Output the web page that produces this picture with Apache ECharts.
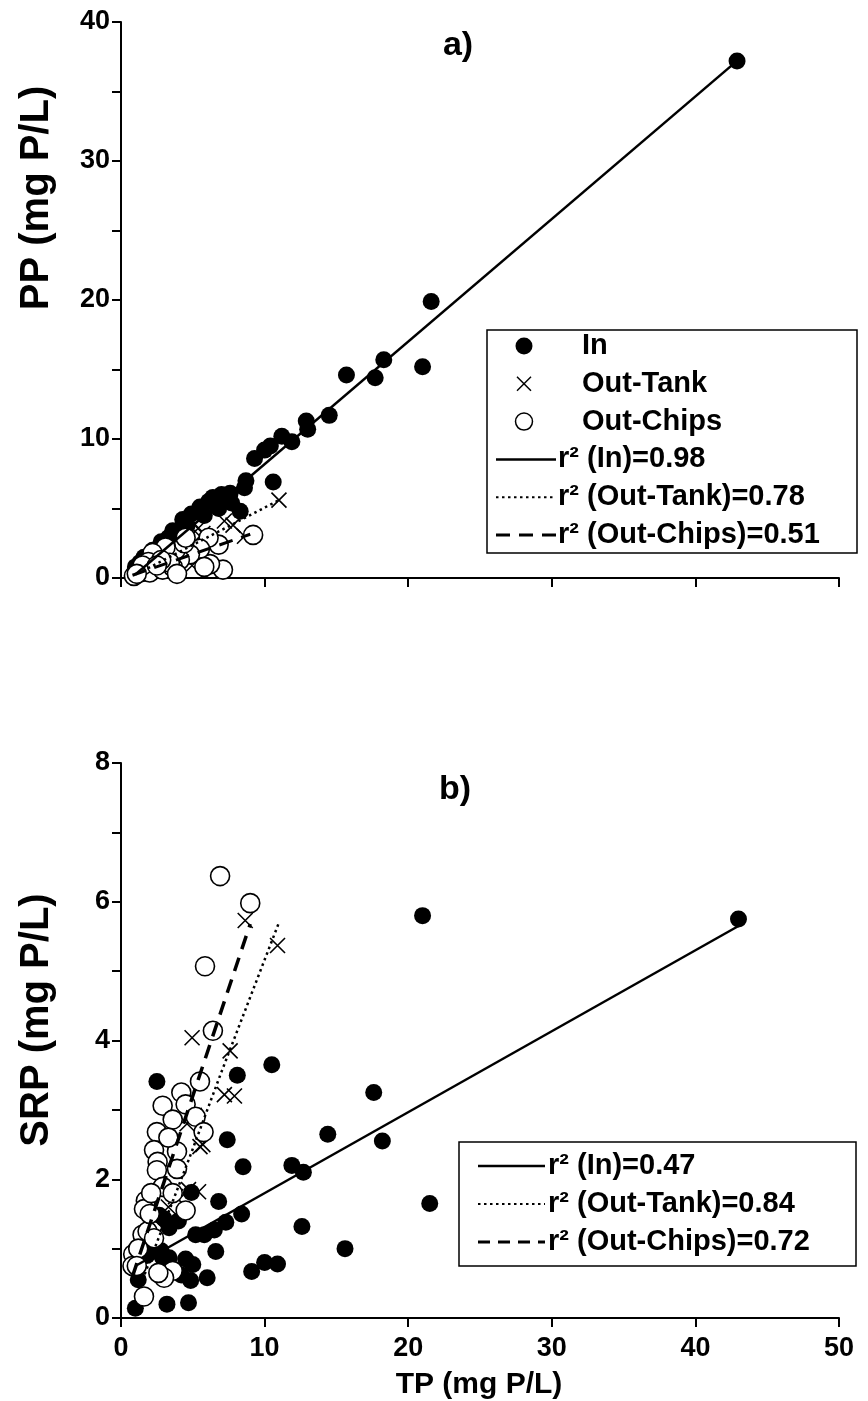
<!DOCTYPE html>
<html>
<head>
<meta charset="utf-8">
<script src="https://cdn.jsdelivr.net/npm/echarts@6/dist/echarts.min.js"></script>
<style>
  html, body { margin: 0; padding: 0; background: #fff; }
  #chart { width: 868px; height: 1401px; }
</style>
</head>
<body>
<div id="chart"></div>
<script>
// ---- Panel a: particulate P (PP) against total P (TP), mg P/L ----
const inPP = [
  [42.9,37.2],[21.6,19.9],[21.0,15.2],[18.3,15.7],[17.7,14.4],[15.7,14.6],[14.5,11.7],
  [12.9,11.3],[13.0,10.7],[11.9,9.8],[11.2,10.2],[10.4,9.5],[10.0,9.2],[9.3,8.6],
  [10.6,6.9],[8.7,7.0],[8.6,6.5],[8.3,4.8],[7.6,6.1],[7.0,6.0],[6.4,5.8],[6.1,5.5],
  [5.5,5.1],[4.9,4.6],[4.3,4.2],[3.6,3.4],[3.3,2.9],[2.8,2.6],[2.2,2.0],[1.6,1.5],
  [1.3,1.1],[1.0,0.8],[7.7,5.4],[6.8,5.0],[5.8,4.5],[2.5,1.0],[3.0,2.1],[4.6,3.8],[1.5,0.3]
];
const tankPP = [
  [11.0,5.6],[7.2,4.1],[7.8,3.8],[8.6,3.0],[5.1,2.2],[4.6,1.8],[5.5,3.0],[5.7,3.2],
  [5.4,3.6],[4.7,2.9],[3.8,2.0],[2.9,1.6],[2.4,1.35],[1.9,0.95],[3.3,1.7],[4.95,0.9],[1.2,0.5]
];
const chipsPP = [
  [9.2,3.1],[7.1,0.6],[6.2,1.0],[6.8,2.4],[6.1,2.9],[5.5,2.1],[4.8,1.7],[4.1,1.3],
  [3.8,2.0],[4.4,2.5],[3.1,2.2],[2.2,1.8],[1.9,1.15],[1.3,0.4],[2.0,0.4],[2.9,0.6],
  [3.6,0.8],[1.5,0.9],[3.4,1.1],[2.8,1.3],[0.9,0.15],[1.1,0.3],[5.8,0.8],[4.5,2.9],
  [2.5,0.9],[3.9,0.3]
];
// fitted trend lines, panel a
const fitInPP = [[1.0,0.25],[42.9,37.2]];
const fitTankPP = [[1.5,0.5],[11.0,5.6]];
const fitChipsPP = [[0.8,0.2],[9.0,3.15]];

// ---- Panel b: soluble reactive P (SRP) against total P (TP), mg P/L ----
const inSRP = [
  [43.0,5.75],[21.0,5.8],[21.5,1.65],[18.2,2.55],[17.6,3.25],[15.6,1.0],[14.4,2.65],
  [12.7,2.1],[11.9,2.2],[12.6,1.32],[10.5,3.65],[10.9,0.78],[10.0,0.8],[9.1,0.67],
  [8.5,2.18],[8.1,3.5],[8.4,1.5],[7.4,2.57],[7.3,1.38],[6.8,1.68],[6.6,0.96],[6.5,1.27],
  [6.0,0.58],[5.8,1.2],[5.2,1.2],[4.9,1.81],[5.0,0.77],[4.85,0.54],[4.5,0.85],[4.2,0.62],
  [4.7,0.22],[3.2,0.2],[3.35,0.87],[3.0,1.43],[3.35,1.3],[2.66,1.48],[2.8,0.97],[2.9,0.87],
  [2.5,3.41],[1.0,0.14],[1.2,0.55],[1.8,0.9],[2.2,1.1],[4.0,1.4]
];
const tankSRP = [
  [8.65,5.73],[10.9,5.37],[4.95,4.04],[7.6,3.85],[7.2,3.22],[7.9,3.2],[5.1,2.92],[4.6,2.8],
  [5.5,2.47],[5.7,2.5],[5.4,1.82],[4.7,1.85],[3.8,1.75],[2.9,1.3],[2.4,1.05],[1.9,0.95],[3.3,1.6]
];
const chipsSRP = [
  [6.9,6.37],[9.0,5.98],[5.85,5.07],[6.4,4.14],[5.5,3.41],[4.2,3.25],[2.9,3.06],[4.5,3.08],
  [5.2,2.9],[3.6,2.86],[2.5,2.68],[5.75,2.68],[2.3,2.42],[3.9,2.4],[2.55,2.25],[2.5,2.13],
  [3.9,2.15],[2.9,1.89],[3.6,1.8],[1.73,1.69],[1.6,1.57],[4.5,1.55],[1.5,1.2],[1.85,1.25],
  [2.3,1.15],[0.85,0.92],[0.8,0.75],[3.6,0.68],[3.0,0.58],[1.6,0.31],[2.6,0.65],[1.2,1.0],
  [1.1,0.75],[2.0,1.5],[3.3,2.6],[2.1,1.8]
];
// fitted trend lines, panel b
const fitInSRP = [[1.0,0.75],[43.0,5.65]];
const fitTankSRP = [[1.5,0.55],[4.75,2.3],[7.0,3.55],[11.0,5.7]];
const fitChipsSRP = [[0.8,0.6],[9.0,5.68]];

// axis ranges and text
const xTicks = { min: 0, max: 50, step: 10 };
const ppTicks = { min: 0, max: 40, step: 5, labelStep: 10 };
const srpTicks = { min: 0, max: 8, step: 1, labelStep: 2 };
const legendA = ['In', 'Out-Tank', 'Out-Chips', 'r\u00b2 (In)=0.98', 'r\u00b2 (Out-Tank)=0.78', 'r\u00b2 (Out-Chips)=0.51'];
const legendB = ['r\u00b2 (In)=0.47', 'r\u00b2 (Out-Tank)=0.84', 'r\u00b2 (Out-Chips)=0.72'];

const FONT = '"Liberation Sans", Arial, sans-serif';
const BLACK = '#000';
const DOT = [2.5, 3.5];
const DASH = [14, 9];

const chart = echarts.init(document.getElementById('chart'), null, { renderer: 'canvas' });

function xAxis(gridIndex, showLabels) {
  return {
    type: 'value', gridIndex, min: xTicks.min, max: xTicks.max, interval: xTicks.step,
    axisLine: { show: true, onZero: false, lineStyle: { color: BLACK, width: 2 } },
    axisTick: { show: true, length: 9, lineStyle: { color: BLACK, width: 2 } },
    axisLabel: { show: showLabels, color: BLACK, fontFamily: FONT, fontWeight: 'bold', fontSize: 27, margin: 17 },
    splitLine: { show: false }
  };
}
function yAxis(gridIndex, t) {
  return {
    type: 'value', gridIndex, min: t.min, max: t.max, interval: t.step,
    axisLine: { show: true, onZero: false, lineStyle: { color: BLACK, width: 2 } },
    axisTick: { show: true, length: 9, lineStyle: { color: BLACK, width: 2 } },
    axisLabel: {
      color: BLACK, fontFamily: FONT, fontWeight: 'bold', fontSize: 27, margin: 11,
      formatter: v => (Math.round(v) % t.labelStep === 0 ? String(v) : '')
    },
    splitLine: { show: false }
  };
}
function dots(name, data, axis, kind) {
  const base = { name, type: 'scatter', data, xAxisIndex: axis, yAxisIndex: axis, silent: true };
  if (kind === 'in') return Object.assign(base, { symbol: 'circle', symbolSize: 17, itemStyle: { color: BLACK, opacity: 1 }, z: 2 });
  if (kind === 'tank') return Object.assign(base, {
    symbol: 'path://M0,0L10,10M10,0L0,10', symbolSize: 15,
    itemStyle: { color: 'rgba(0,0,0,0)', borderColor: BLACK, borderWidth: 1.6, opacity: 1 }, z: 3
  });
  return Object.assign(base, { symbol: 'circle', symbolSize: 19, itemStyle: { color: '#fff', borderColor: BLACK, borderWidth: 1.6, opacity: 1 }, z: 4 });
}
function fit(name, data, axis, type, width) {
  return {
    name, type: 'line', data, xAxisIndex: axis, yAxisIndex: axis, symbol: 'none', silent: true,
    lineStyle: { color: BLACK, width, type }, z: 6
  };
}

// legend drawn as a boxed key: marker rows and line rows
function legendBox(x, y, w, h, rows, keyX0, keyX1, markerX, textMarkerX, textLineX, rowGap, firstRow) {
  const els = [{ type: 'rect', shape: { x, y, width: w, height: h }, style: { fill: '#fff', stroke: BLACK, lineWidth: 1.5 }, z: 20 }];
  const cx = markerX;
  rows.forEach((r, i) => {
    const cy = firstRow + i * rowGap;
    if (r.kind === 'in') els.push({ type: 'circle', shape: { cx, cy, r: 8.5 }, style: { fill: BLACK }, z: 21 });
    if (r.kind === 'tank') els.push({ type: 'polyline', shape: { points: [[cx - 7, cy - 7], [cx + 7, cy + 7]] }, style: { stroke: BLACK, lineWidth: 1.5 }, z: 21 },
                                    { type: 'polyline', shape: { points: [[cx + 7, cy - 7], [cx - 7, cy + 7]] }, style: { stroke: BLACK, lineWidth: 1.5 }, z: 21 });
    if (r.kind === 'chips') els.push({ type: 'circle', shape: { cx, cy, r: 8.5 }, style: { fill: '#fff', stroke: BLACK, lineWidth: 1.5 }, z: 21 });
    if (r.line) els.push({ type: 'polyline', shape: { points: [[keyX0, cy], [keyX1, cy]] },
                           style: { stroke: BLACK, lineWidth: r.width, lineDash: r.line === 'solid' ? null : r.line }, z: 21 });
    els.push({ type: 'text', x: r.line ? textLineX : textMarkerX, y: cy,
               style: { text: r.text, fill: BLACK, font: 'bold 29px ' + FONT, textVerticalAlign: 'middle', textAlign: 'left' }, z: 21 });
  });
  return els;
}

const graphics = [
  { type: 'text', x: 458, y: 46, style: { text: 'a)', fill: BLACK, font: 'bold 34px ' + FONT, textAlign: 'center', textVerticalAlign: 'middle' } },
  { type: 'text', x: 455, y: 790, style: { text: 'b)', fill: BLACK, font: 'bold 34px ' + FONT, textAlign: 'center', textVerticalAlign: 'middle' } },
  { type: 'text', x: 37, y: 198, rotation: Math.PI / 2, style: { text: 'PP (mg P/L)', fill: BLACK, font: 'bold 40px ' + FONT, textAlign: 'center', textVerticalAlign: 'middle' } },
  { type: 'text', x: 37, y: 1020, rotation: Math.PI / 2, style: { text: 'SRP (mg P/L)', fill: BLACK, font: 'bold 40px ' + FONT, textAlign: 'center', textVerticalAlign: 'middle' } },
  { type: 'text', x: 479, y: 1385, style: { text: 'TP (mg P/L)', fill: BLACK, font: 'bold 30px ' + FONT, textAlign: 'center', textVerticalAlign: 'middle' } }
].concat(
  legendBox(487, 330, 370, 223, [
    { kind: 'in', text: legendA[0] },
    { kind: 'tank', text: legendA[1] },
    { kind: 'chips', text: legendA[2] },
    { line: 'solid', width: 2.5, text: legendA[3] },
    { line: DOT, width: 2, text: legendA[4] },
    { line: DASH, width: 3, text: legendA[5] }
  ], 496, 556, 524, 582, 558, 37.8, 346),
  legendBox(459, 1142, 397, 124, [
    { line: 'solid', width: 2.5, text: legendB[0] },
    { line: DOT, width: 2, text: legendB[1] },
    { line: [12, 8], width: 3, text: legendB[2] }
  ], 478, 545, 0, 0, 548, 38, 1166)
);

chart.setOption({
  animation: false,
  backgroundColor: '#fff',
  grid: [
    { left: 121, right: 29, top: 22, height: 556, containLabel: false },
    { left: 121, right: 29, top: 763, height: 555, containLabel: false }
  ],
  xAxis: [xAxis(0, false), xAxis(1, true)],
  yAxis: [yAxis(0, ppTicks), yAxis(1, srpTicks)],
  series: [
    dots('In', inPP, 0, 'in'),
    dots('Out-Tank', tankPP, 0, 'tank'),
    dots('Out-Chips', chipsPP, 0, 'chips'),
    fit('fit In a', fitInPP, 0, 'solid', 2.5),
    fit('fit Out-Tank a', fitTankPP, 0, DOT, 2.5),
    fit('fit Out-Chips a', fitChipsPP, 0, DASH, 3),
    dots('In b', inSRP, 1, 'in'),
    dots('Out-Tank b', tankSRP, 1, 'tank'),
    dots('Out-Chips b', chipsSRP, 1, 'chips'),
    fit('fit In b', fitInSRP, 1, 'solid', 2.5),
    fit('fit Out-Tank b', fitTankSRP, 1, DOT, 2.5),
    fit('fit Out-Chips b', fitChipsSRP, 1, [14, 9], 3.5)
  ],
  graphic: graphics
});
</script>
</body>
</html>
